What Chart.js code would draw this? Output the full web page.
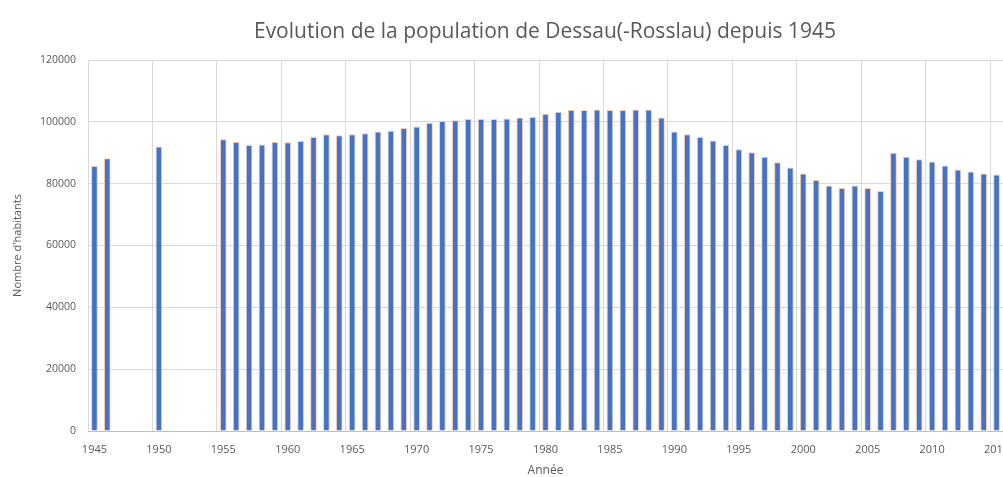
<!DOCTYPE html>
<html>
<head>
<meta charset="utf-8">
<script src="https://cdn.jsdelivr.net/npm/chart.js@4/dist/chart.umd.min.js"></script>
<style>
  html, body { margin: 0; padding: 0; background: #ffffff; }
  #wrap { width: 1003px; height: 477px; position: relative; }
</style>
</head>
<body>
<div id="wrap"><canvas id="c" width="1003" height="477"></canvas></div>
<script>
const chartTitle = "Evolution de la population de Dessau(-Rosslau) depuis 1945";
const xAxisTitle = "Année";
const yAxisTitle = "Nombre d'habitants";

const years = [1945, 1946, 1950,
  1955, 1956, 1957, 1958, 1959, 1960, 1961, 1962, 1963, 1964,
  1965, 1966, 1967, 1968, 1969, 1970, 1971, 1972, 1973, 1974,
  1975, 1976, 1977, 1978, 1979, 1980, 1981, 1982, 1983, 1984,
  1985, 1986, 1987, 1988, 1989, 1990, 1991, 1992, 1993, 1994,
  1995, 1996, 1997, 1998, 1999, 2000, 2001, 2002, 2003, 2004,
  2005, 2006, 2007, 2008, 2009, 2010, 2011, 2012, 2013, 2014, 2015];

const population = [85700, 88200, 92000,
  94400, 93500, 92500, 92700, 93500, 93400, 93800, 95100, 96000, 95700,
  96000, 96300, 96900, 97100, 98000, 98500, 99700, 100300, 100500, 100900,
  100900, 100900, 101100, 101400, 101600, 102600, 103300, 103800, 103800, 104000,
  103800, 103800, 104000, 104000, 101400, 96900, 96000, 95100, 94000, 92500,
  91100, 90200, 88700, 86900, 85200, 83300, 81200, 79400, 78600, 79400,
  78600, 77600, 90000, 88700, 87900, 87200, 85900, 84600, 83900, 83300, 83000];

const yTicks = [0, 20000, 40000, 60000, 80000, 100000, 120000];
const xLabelYears = [1945, 1950, 1955, 1960, 1965, 1970, 1975, 1980, 1985, 1990, 1995, 2000, 2005, 2010, 2015];

const points = years.map((y, i) => ({ x: y, y: population[i] }));

const titlePlugin = {
  id: 'customTitle',
  afterDraw(chart) {
    const ctx = chart.ctx;
    ctx.save();
    ctx.font = '21px "Open Sans"';
    ctx.fillStyle = '#595959';
    ctx.textAlign = 'center';
    ctx.textBaseline = 'middle';
    ctx.fillText(chartTitle, 545, 32);
    ctx.restore();
  }
};

new Chart(document.getElementById('c'), {
  type: 'bar',
  data: {
    datasets: [{
      data: points,
      backgroundColor: '#4472C4',
      borderColor: '#F8CBAD',
      borderWidth: 1,
      borderSkipped: 'bottom',
      barPercentage: 0.52,
      categoryPercentage: 1.0
    }]
  },
  options: {
    responsive: false,
    animation: false,
    layout: { padding: { top: 60, left: 0, right: 0, bottom: 0 } },
    plugins: {
      legend: { display: false },
      title: { display: false },
      tooltip: { enabled: false }
    },
    scales: {
      x: {
        type: 'linear',
        offset: false,
        min: xLabelYears[0] - 0.5,
        max: xLabelYears[xLabelYears.length - 1] + 0.5,
        afterBuildTicks(scale) {
          scale.ticks = xLabelYears.map(v => ({ value: v - 0.5 }));
        },
        afterFit(scale) {
          scale.height = 46;
          scale.paddingLeft = 0;
          scale.paddingRight = 0;
        },
        grid: { color: '#d9d9d9', drawTicks: false, lineWidth: 1, offset: false },
        border: { display: true, color: '#bfbfbf' },
        ticks: {
          autoSkip: false,
          maxRotation: 0,
          padding: 12,
          labelOffset: 6.44,
          color: '#595959',
          font: { family: 'Open Sans', size: 11 },
          callback: (v) => String(v + 0.5)
        },
        title: {
          display: true,
          text: xAxisTitle,
          color: '#595959',
          font: { family: 'Open Sans', size: 12, lineHeight: 1 },
          padding: 0
        }
      },
      y: {
        min: 0,
        max: 120000,
        afterBuildTicks(scale) {
          scale.ticks = yTicks.map(v => ({ value: v }));
        },
        afterFit(scale) {
          scale.width = 88;
          scale.paddingTop = 0;
          scale.paddingBottom = 0;
        },
        grid: { color: '#d9d9d9', drawTicks: false },
        border: { display: false },
        ticks: {
          padding: 12,
          color: '#595959',
          font: { family: 'Open Sans', size: 10.5 },
          callback: (v) => String(v)
        },
        title: {
          display: true,
          text: yAxisTitle,
          color: '#595959',
          font: { family: 'Open Sans', size: 11, lineHeight: 1 },
          padding: { top: 12, bottom: 0 }
        }
      }
    }
  },
  plugins: [titlePlugin]
});
</script>
</body>
</html>
